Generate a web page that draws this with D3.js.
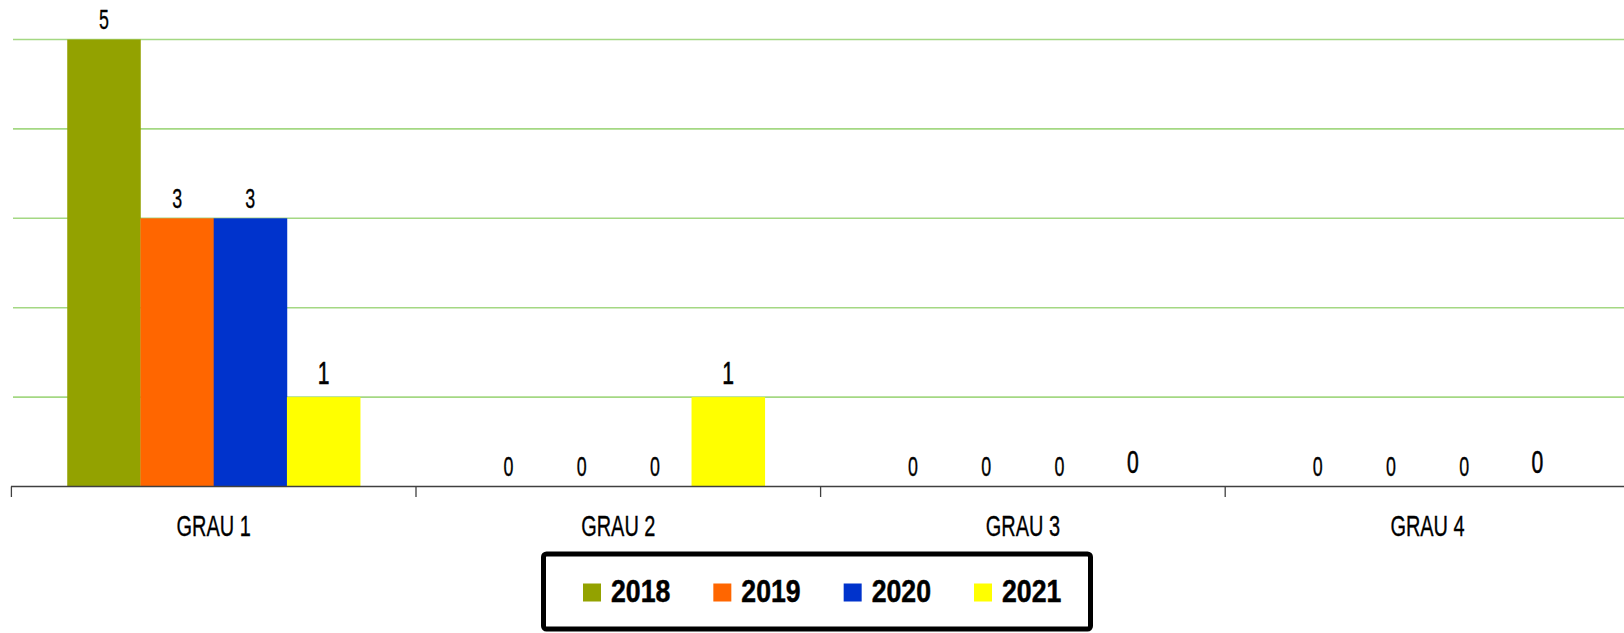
<!DOCTYPE html>
<html>
<head>
<meta charset="utf-8">
<script src="https://cdn.jsdelivr.net/npm/d3@7"></script>
<style>
  html, body { margin: 0; padding: 0; background: #fff; }
  svg { display: block; }
  .cond { font-family: "Liberation Sans", Arial, sans-serif; }
</style>
</head>
<body>
<svg id="chart" width="1624" height="633"></svg>
<script>
const categories = ["GRAU 1", "GRAU 2", "GRAU 3", "GRAU 4"];
const seriesNames = ["2018", "2019", "2020", "2021"];
const values2018 = [5, 0, 0, 0];
const values2019 = [3, 0, 0, 0];
const values2020 = [3, 0, 0, 0];
const values2021 = [1, 1, 0, 0];
const seriesColors = ["#93a200", "#ff6600", "#0033cc", "#ffff00"];
const yTicks = [0, 1, 2, 3, 4, 5];

const seriesValues = [values2018, values2019, values2020, values2021];

const svg = d3.select("#chart");
const W = 1624;

const x0 = d3.scaleBand().domain(categories).range([11.4, 1629.8]).padding(0);
const bw = x0.bandwidth();
const x1 = d3.scaleBand().domain(seriesNames).range([bw * 0.138, bw * 0.862]).padding(0);
const y = d3.scaleLinear().domain([0, 5]).range([486.5, 39.5]);

// gridlines
svg.append("g").selectAll("line")
  .data(yTicks.filter(d => d > 0))
  .join("line")
  .attr("x1", 13).attr("x2", W)
  .attr("y1", d => y(d)).attr("y2", d => y(d))
  .attr("stroke", "#a4d883").attr("stroke-width", 1.6);

// bars
const rows = [];
categories.forEach((c, ci) => {
  seriesNames.forEach((s, si) => {
    rows.push({ cat: c, ser: s, si, v: seriesValues[si][ci] });
  });
});

svg.append("g").selectAll("rect")
  .data(rows)
  .join("rect")
  .attr("x", d => x0(d.cat) + x1(d.ser))
  .attr("y", d => y(d.v))
  .attr("width", x1.bandwidth() + 0.3)
  .attr("height", d => y(0) - y(d.v))
  .attr("fill", d => seriesColors[d.si]);

// axis line + boundary ticks
const axisG = svg.append("g").attr("transform", `translate(0,${y(0)})`);
axisG.append("line").attr("x1", 11).attr("x2", W).attr("y1", 0).attr("y2", 0)
  .attr("stroke", "#404040").attr("stroke-width", 1.5);
axisG.selectAll("line.tk")
  .data(categories)
  .join("line").attr("class", "tk")
  .attr("x1", d => x0(d)).attr("x2", d => x0(d))
  .attr("y1", 0).attr("y2", 10.5)
  .attr("stroke", "#404040").attr("stroke-width", 1.3);

// category labels via axis
const xAxis = d3.axisBottom(x0).tickSize(0).tickPadding(0);
const labAxis = svg.append("g").attr("transform", `translate(0,${y(0)})`).call(xAxis);
labAxis.select(".domain").remove();
labAxis.selectAll(".tick text")
  .attr("class", "cond")
  .attr("font-size", 30)
  .attr("fill", "#000")
  .attr("stroke", "#000").attr("stroke-width", 0.35)
  .attr("y", 0).attr("dy", 0)
  .attr("transform", "translate(0,49.5) scale(0.665,1)");

// value labels
svg.append("g").selectAll("g.vl")
  .data(rows)
  .join("g").attr("class", "vl")
  .attr("transform", d => {
    const cx = x0(d.cat) + x1(d.ser) + x1.bandwidth() / 2;
    const big = d.si === 3;
    const cy = y(d.v) - (big ? 13.5 : 10.5);
    return `translate(${cx},${cy}) scale(0.66,1)`;
  })
  .append("text")
  .attr("class", "cond")
  .attr("text-anchor", "middle")
  .attr("font-size", d => d.si === 3 ? 32 : 27)
  .attr("fill", "#000")
  .attr("stroke", "#000").attr("stroke-width", d => d.si === 3 ? 0.6 : 0.35)
  .text(d => d.v);

// legend
const legend = svg.append("g");
legend.append("rect")
  .attr("x", 543.5).attr("y", 554).attr("width", 547).attr("height", 75)
  .attr("rx", 3).attr("fill", "#fff").attr("stroke", "#000").attr("stroke-width", 5);
const legX = d3.scalePoint().domain(seriesNames).range([583, 974]);
const items = legend.selectAll("g.li").data(seriesNames).join("g").attr("class", "li")
  .attr("transform", d => `translate(${legX(d)},0)`);
items.append("rect").attr("x", 0).attr("y", 583.5).attr("width", 18).attr("height", 18)
  .attr("fill", (d, i) => seriesColors[i]);
items.append("g").attr("transform", "translate(28,602.3) scale(0.86,1)")
  .append("text")
  .attr("font-family", "Liberation Sans, Arial, sans-serif")
  .attr("font-weight", "bold")
  .attr("font-size", 31)
  .attr("fill", "#000")
  .attr("stroke", "#000").attr("stroke-width", 0.5)
  .text(d => d);
</script>
</body>
</html>
